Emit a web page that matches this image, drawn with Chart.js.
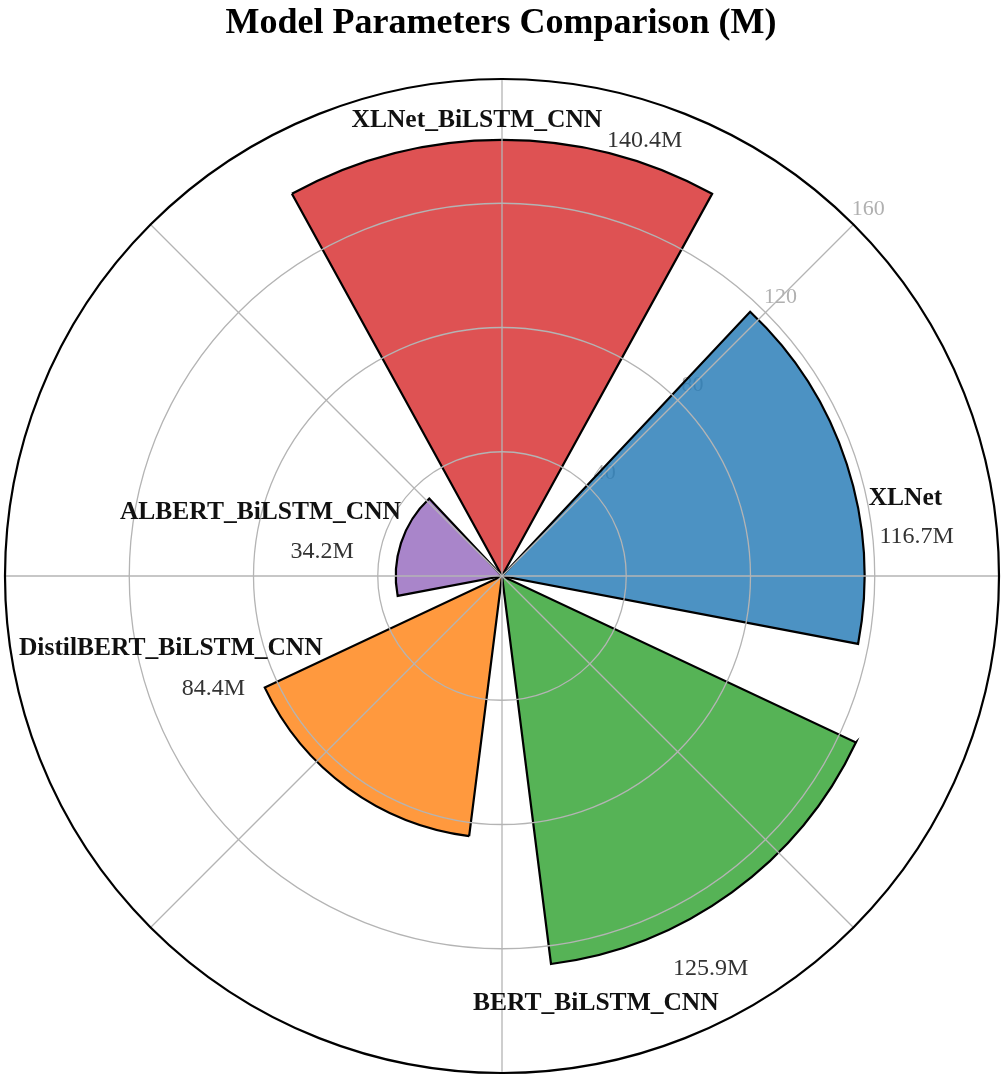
<!DOCTYPE html>
<html>
<head>
<meta charset="utf-8">
<script src="https://cdn.jsdelivr.net/npm/chart.js@4.4.0/dist/chart.umd.min.js"></script>
<style>
html,body{margin:0;padding:0;background:#fff;}
#wrap{position:relative;width:1005px;height:1080px;}
</style>
</head>
<body>
<div id="wrap"><canvas id="c"></canvas></div>
<script>
// ---- data (clockwise from top) ----
const categories = ['XLNet_BiLSTM_CNN', 'XLNet', 'BERT_BiLSTM_CNN', 'DistilBERT_BiLSTM_CNN', 'ALBERT_BiLSTM_CNN'];
const paramsM = [140.4, 116.7, 125.9, 84.4, 34.2];
const valueLabels = ['140.4M', '116.7M', '125.9M', '84.4M', '34.2M'];
const radialTicks = [40, 80, 120, 160];
const tickLabels = ['40', '80', '120', '160'];
const titleText = 'Model Parameters Comparison (M)';

// ---- style / layout ----
const barColors = ['rgba(214,39,40,0.8)', 'rgba(31,119,180,0.8)', 'rgba(44,160,44,0.8)', 'rgba(255,127,14,0.8)', 'rgba(148,103,189,0.8)'];
const sectorDeg = 360 / categories.length;
const barFrac = 0.8;
// label anchors: [angle offset from bar centre (deg, clockwise), radial offset beyond bar value (value units)]
const nameOffsets = [[-3.2, 4.4], [8.0, 15.2], [23.8, 17.1], [40.6, 25.2], [-4.7, 45.7]];
const valueOffsets = [[18.4, 5.2], [13.45, 17.2], [8.4, 19.1], [31.6, 16.1], [-12.3, 24.0]];
const SERIF = "'Liberation Serif', 'Times New Roman', Times, serif";
const gridGray = '#b4b4b4';

// build interleaved table (bar, gap, bar, gap ...) for Chart.js
const tblData = [], tblAngle = [], tblColor = [], tblLabels = [], tblIsGap = [];
categories.forEach((c, i) => {
  tblData.push(paramsM[i]); tblAngle.push(sectorDeg * barFrac); tblColor.push(barColors[i]); tblLabels.push(c); tblIsGap.push(false);
  tblData.push(0); tblAngle.push(sectorDeg * (1 - barFrac)); tblColor.push('rgba(0,0,0,0)'); tblLabels.push(''); tblIsGap.push(true);
});

function polarXY(scale, angleDegCW, value) {
  const r = scale.getDistanceFromCenterForValue(value);
  const a = angleDegCW * Math.PI / 180 - Math.PI / 2;
  return { x: scale.xCenter + Math.cos(a) * r, y: scale.yCenter + Math.sin(a) * r };
}

const decorPlugin = {
  id: 'decor',
  beforeDatasetsDraw(chart) {
    const s = chart.scales.r, ctx = chart.ctx;
    ctx.save();
    ctx.font = '22px ' + SERIF;
    ctx.fillStyle = '#b0b0b0';
    ctx.textAlign = 'center';
    ctx.textBaseline = 'middle';
    radialTicks.forEach((v, i) => {
      const r = s.getDistanceFromCenterForValue(v) + 21;
      const a = 45 * Math.PI / 180 - Math.PI / 2;
      ctx.fillText(tickLabels[i], s.xCenter + Math.cos(a) * r, s.yCenter + Math.sin(a) * r);
    });
    ctx.restore();
  },
  afterDatasetsDraw(chart) {
    const s = chart.scales.r, ctx = chart.ctx;
    ctx.save();
    ctx.strokeStyle = gridGray;
    ctx.lineWidth = 1.3;
    for (let k = 0; k < 8; k++) {
      const p = polarXY(s, k * 45, s.max);
      ctx.beginPath();
      ctx.moveTo(s.xCenter, s.yCenter);
      ctx.lineTo(p.x, p.y);
      ctx.stroke();
    }
    ctx.restore();
  },
  afterDraw(chart) {
    const s = chart.scales.r, ctx = chart.ctx;
    ctx.save();
    ctx.textAlign = 'center';
    ctx.textBaseline = 'alphabetic';
    categories.forEach((c, i) => {
      const centre = i * sectorDeg;
      const pn = polarXY(s, centre + nameOffsets[i][0], paramsM[i] + nameOffsets[i][1]);
      ctx.font = 'bold 25.5px ' + SERIF;
      ctx.fillStyle = '#111';
      ctx.fillText(c, pn.x, pn.y);
      const pv = polarXY(s, centre + valueOffsets[i][0], paramsM[i] + valueOffsets[i][1]);
      ctx.font = '24px ' + SERIF;
      ctx.fillStyle = '#333';
      ctx.fillText(valueLabels[i], pv.x, pv.y);
    });
    ctx.font = 'bold 36px ' + SERIF;
    ctx.fillStyle = '#000';
    ctx.fillText(titleText, 501, 33);
    ctx.restore();
  }
};

new Chart(document.getElementById('c'), {
  type: 'polarArea',
  data: {
    labels: tblLabels,
    datasets: [{
      data: tblData,
      angle: tblAngle,
      backgroundColor: tblColor,
      borderColor: tblIsGap.map(g => g ? 'rgba(0,0,0,0)' : '#000'),
      borderWidth: tblIsGap.map(g => g ? 0 : 2.2),
      borderJoinStyle: 'miter',
      borderAlign: 'center'
    }]
  },
  options: {
    responsive: true,
    maintainAspectRatio: false,
    animation: false,
    layout: { padding: { left: 5, right: 6, top: 79, bottom: 7 } },
    plugins: { legend: { display: false }, tooltip: { enabled: false }, title: { display: false } },
    scales: {
      r: {
        min: 0,
        max: 160,
        startAngle: -sectorDeg * barFrac / 2,
        ticks: { display: false, stepSize: 40 },
        angleLines: { display: false },
        pointLabels: { display: false },
        grid: {
          circular: true,
          z: 1,
          color: ctx => ctx.tick && ctx.tick.value === 160 ? '#000' : gridGray,
          lineWidth: ctx => ctx.tick && ctx.tick.value === 160 ? 2.2 : 1.3
        }
      }
    }
  },
  plugins: [decorPlugin]
});
</script>
</body>
</html>
